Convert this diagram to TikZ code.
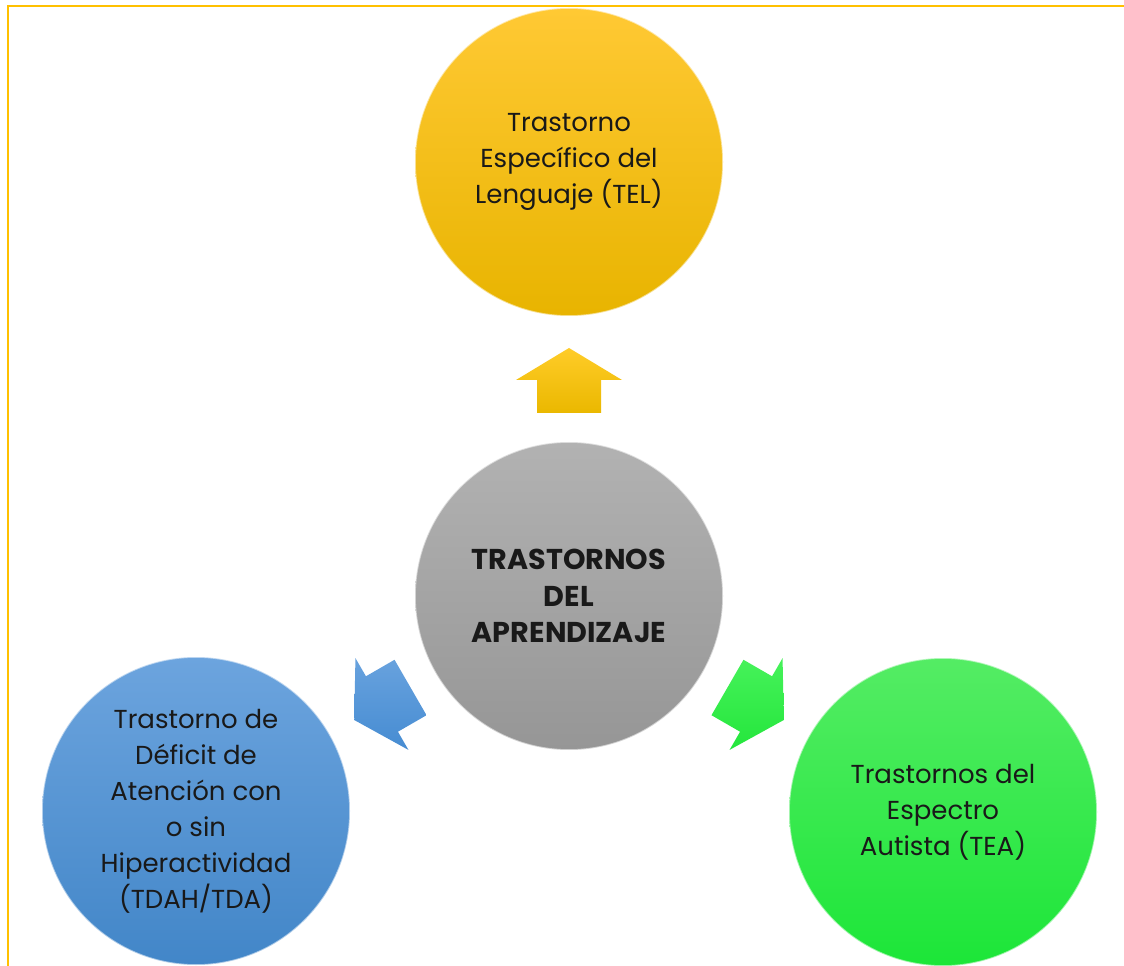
\documentclass[tikz,border=0pt]{standalone}
\usepackage{fontspec}
\setmainfont{Poppins}
\definecolor{framec}{RGB}{255,192,0}
\definecolor{txt}{RGB}{25,25,25}
\definecolor{ytop}{RGB}{255,201,52}
\definecolor{ybot}{RGB}{232,180,0}
\definecolor{gytop}{RGB}{178,178,178}
\definecolor{gybot}{RGB}{150,150,150}
\definecolor{btop}{RGB}{108,164,222}
\definecolor{bbot}{RGB}{66,134,200}
\definecolor{grtop}{RGB}{84,236,100}
\definecolor{grbot}{RGB}{28,230,56}
\definecolor{ayt}{RGB}{255,204,40}
\definecolor{ayb}{RGB}{234,184,0}
\definecolor{abt}{RGB}{104,162,222}
\definecolor{abb}{RGB}{70,140,210}
\definecolor{agt}{RGB}{70,242,90}
\definecolor{agb}{RGB}{36,230,60}
\newcommand\myblockarrow[3]{%
  \shade[top color=#2, bottom color=#3]
    ([shift={(c.center)},rotate=#1]183,-32) --
    ([shift={(c.center)},rotate=#1]216,-32) --
    ([shift={(c.center)},rotate=#1]216,-53) --
    ([shift={(c.center)},rotate=#1]248,0) --
    ([shift={(c.center)},rotate=#1]216,53) --
    ([shift={(c.center)},rotate=#1]216,32) --
    ([shift={(c.center)},rotate=#1]183,32) -- cycle;}
\begin{document}
\begin{tikzpicture}[x=0.75pt,y=0.75pt,
  bubble/.style={circle, minimum size=231pt, inner sep=0pt, align=center,
    text=txt, font=\fontsize{19.5}{27}\selectfont,
    draw=white, draw opacity=0.55, line width=1.2pt},
  framepen/.style={draw=framec, line width=1.5pt},
]
\useasboundingbox (0,0) rectangle (1124,965);
\fill[white] (0,0) rectangle (1124,965);
\draw[framepen] (8,-10) -- (8,959) -- (1135,959);
\node[bubble, top color=ytop, bottom color=ybot] (tel) at (569,803)
  {Trastorno\\Específico del\\Lenguaje (TEL)};
\node[bubble, top color=gytop, bottom color=gybot,
  font=\bfseries\fontsize{21.5}{27.5}\selectfont] (c) at (569,369)
  {TRASTORNOS\\DEL\\APRENDIZAJE};
\node[bubble, top color=btop, bottom color=bbot] (tdah) at (196,154)
  {Trastorno de\\Déficit de\\Atención con\\o sin\\Hiperactividad\\(TDAH/TDA)};
\node[bubble, top color=grtop, bottom color=grbot] (tea) at (943,153)
  {Trastornos del\\Espectro\\Autista (TEA)};
\myblockarrow{90}{ayt}{ayb}
\myblockarrow{210}{abt}{abb}
\myblockarrow{330}{agt}{agb}
\end{tikzpicture}
\end{document}
